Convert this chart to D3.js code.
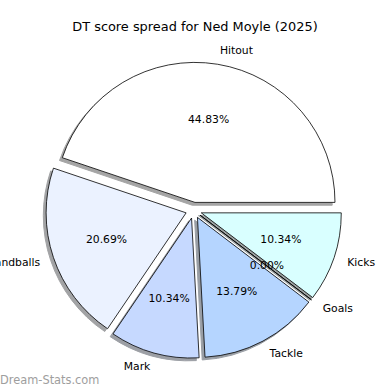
<!DOCTYPE html>
<html>
<head>
<meta charset="utf-8">
<script src="https://cdn.jsdelivr.net/npm/d3@7"></script>
<style>
  body { margin: 0; background: #fff; }
  text { font-family: "DejaVu Sans", sans-serif; }
</style>
</head>
<body>
<div id="chart"></div>
<script>
// slices, in drawing order (clockwise from 3 o'clock)
var categories = ["Kicks", "Goals", "Tackle", "Mark", "Handballs", "Hitout"];
var scores = [3, 0, 4, 3, 6, 13];
var colors = ["#d9ffff", "#c9e6ff", "#b5d5ff", "#c6d9ff", "#ebf2ff", "#ffffff"];

var width = 390, height = 390;
var cx = 193.7, cy = 210.3, radius = 140, explode = 8;

var svg = d3.select("#chart").append("svg")
    .attr("width", width)
    .attr("height", height);

// title
svg.append("text")
    .attr("x", 195)
    .attr("y", 26)
    .attr("text-anchor", "middle")
    .attr("dominant-baseline", "central")
    .style("font-size", "12.9px")
    .text("DT score spread for Ned Moyle (2025)");

var total = d3.sum(scores);

var pie = d3.pie()
    .sort(null)
    .startAngle(Math.PI / 2)
    .endAngle(Math.PI / 2 + 2 * Math.PI);

var arc = d3.arc().innerRadius(0).outerRadius(radius);

var slices = pie(scores).map(function(d, i) {
  var mid = (d.startAngle + d.endAngle) / 2;
  d.dx = Math.sin(mid);
  d.dy = -Math.cos(mid);
  d.x = cx + explode * d.dx;
  d.y = cy + explode * d.dy;
  d.name = categories[i];
  d.color = colors[i];
  return d;
});

// shadow colour: 0.3 x face colour, half transparent
function shadowColor(c) {
  var rgb = d3.rgb(c);
  return d3.rgb(rgb.r * 0.3, rgb.g * 0.3, rgb.b * 0.3).toString();
}

var g = svg.append("g");

slices.forEach(function(d) {
  g.append("path")
      .attr("d", arc(d))
      .attr("transform", "translate(" + (d.x - 2.8) + "," + (d.y + 2.8) + ")")
      .attr("fill", shadowColor(d.color))
      .attr("stroke", shadowColor(d.color))
      .attr("stroke-width", 1)
      .attr("opacity", 0.5);
  g.append("path")
      .attr("d", arc(d))
      .attr("transform", "translate(" + d.x + "," + d.y + ")")
      .attr("fill", d.color)
      .attr("stroke", "#000")
      .attr("stroke-width", 0.8)
      .attr("stroke-linejoin", "miter");
});

// category labels
slices.forEach(function(d) {
  var lx = d.x + radius * 1.1 * d.dx;
  var ly = d.y + radius * 1.1 * d.dy;
  svg.append("text")
      .attr("x", lx)
      .attr("y", ly)
      .attr("text-anchor", d.dx > 0 ? "start" : "end")
      .attr("dominant-baseline", "central")
      .style("font-size", "10.8px")
      .text(d.name);
});

// percentage labels
slices.forEach(function(d) {
  svg.append("text")
      .attr("x", d.x + radius * 0.6 * d.dx)
      .attr("y", d.y + radius * 0.6 * d.dy)
      .attr("text-anchor", "middle")
      .attr("dominant-baseline", "central")
      .style("font-size", "10.8px")
      .text((d.value / total * 100).toFixed(2) + "%");
});

// watermark
svg.append("text")
    .attr("x", 0)
    .attr("y", 384)
    .style("font-size", "11.4px")
    .attr("fill", "#9e9e9e")
    .text("Dream-Stats.com");
</script>
</body>
</html>
